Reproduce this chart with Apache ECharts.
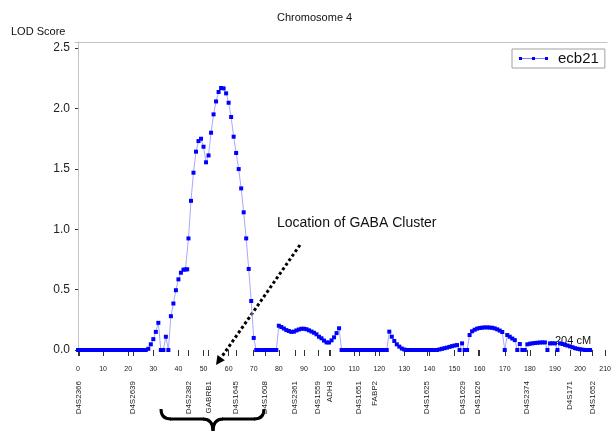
<!DOCTYPE html>
<html>
<head>
<meta charset="utf-8">
<script src="https://cdn.jsdelivr.net/npm/echarts@6/dist/echarts.min.js"></script>
<style>
  html, body { margin: 0; padding: 0; background: #fff; }
  #main { width: 614px; height: 432px; }
</style>
</head>
<body>
<div id="main"></div>
<script>
var chart = echarts.init(document.getElementById('main'))
var FONT = 'Liberation Sans'

// position (cM) and LOD score
var cmPos = [0,1,2,3,4,5,6,7,8,9,10,11,12,13,14,15,16,17,18,19,20,21,22,23,24,25,26,27,
  28,29,30,31,32,33,34,35,36,37,38,39,40,41,42,42.8,43.5,44,45,46,47,48,49,50,
  51,52,53,54,55,56,57,58,59,60,61,62,63,64,65,66,67,68,69,70,
  71,72,73,74,75,76,77,78,79,80,81,82,83,84,85,86,87,88,89,90,
  91,92,93,94,95,96,97,98,99,100,101,102,103,104,
  105,106,107,108,109,110,111,112,113,114,115,116,117,118,119,120,121,122,123,
  124,125,126,127,128,129,130,131,132,133,134,135,136,137,138,139,140,141,142,143,
  144,145,146,147,148,149,150,151,152,153,154,155,156,157,158,159,160,
  161,162,163,164,165,166,167,168,169,170,171,172,173,174,175,176,177,178,179,180,
  181,182,183,184,185,186,187,188,189,190,191,192,193,194,195,196,197,198,199,200,
  201,202,203,204]
var lodScore = [0,0,0,0,0,0,0,0,0,0,0,0,0,0,0,0,0,0,0,0,0,0,0,0,0,0,0,0,
  0.01,0.047,0.09,0.15,0.225,0,0,0.11,0,0.28,0.385,0.495,0.585,0.64,0.665,0.667,0.668,0.924,1.235,1.468,1.642,1.73,1.749,1.683,
  1.554,1.611,1.799,1.951,2.058,2.136,2.169,2.166,2.125,2.047,1.929,1.766,1.631,1.498,1.338,1.14,0.924,0.671,0.406,0.10,
  0,0,0,0,0,0,0,0,0,0.201,0.19,0.178,0.165,0.157,0.15,0.152,0.162,0.17,0.176,0.176,
  0.172,0.163,0.153,0.143,0.13,0.11,0.097,0.078,0.063,0.062,0.08,0.105,0.14,0.18,
  0,0,0,0,0,0,0,0,0,0,0,0,0,0,0,0,0,0,0,
  0.152,0.11,0.075,0.047,0.028,0.012,0.004,0,0,0,0,0,0,0,0,0,0,0,0,0,
  0.005,0.01,0.015,0.02,0.026,0.032,0.037,0.041,0,0.055,0,0,0.124,0.155,0.168,0.177,0.182,
  0.185,0.187,0.187,0.186,0.184,0.179,0.171,0.161,0.149,0,0.124,0.11,0.095,0.082,0,0.05,0,0,0.047,0.052,
  0.055,0.058,0.06,0.062,0.063,0.063,0,0.055,0.056,0.055,0,0.055,0.05,0.043,0.037,0.03,0.023,0.015,0.01,0.006,
  0.003,0,0,0]

// marker names and their map positions
var markerNames = ['D4S2366','D4S2639','D4S2382','GABRB1','D4S1645','D4S1608','D4S2361','D4S1559','ADH3',
  'D4S1651','FABP2','D4S1625','D4S1629','D4S1626','D4S2374','D4S171','D4S1652']
var markerPos = [0.4,22,44,52,63,74.5,86.5,95.6,100.4,112,118.3,139,153.4,159.4,178.9,196,205]

var xTicks = [0,10,20,30,40,50,60,70,80,90,100,110,120,130,140,150,160,170,180,190,200,210]
var yTicks = [0,0.5,1,1.5,2,2.5]

var seriesData = []
for (var i = 0; i < cmPos.length; i++) {
  seriesData.push([cmPos[i], lodScore[i]])
}

var markerLabel = {}
for (var j = 0; j < markerPos.length; j++) {
  markerLabel[markerPos[j]] = markerNames[j]
}

// arrow from the text down to the cluster
var tip = [216, 365], tail = [300, 245]
var dx = tip[0] - tail[0], dy = tip[1] - tail[1]
var len = Math.sqrt(dx * dx + dy * dy)
var ux = dx / len, uy = dy / len
var base = [tip[0] - ux * 9, tip[1] - uy * 9]

var braceStyle = { stroke: '#000', lineWidth: 3, fill: null }

var option = {
  animation: false,
  title: {
    text: 'Chromosome 4',
    left: 272,
    top: 7,
    textStyle: { fontFamily: FONT, fontSize: 11, fontWeight: 'normal', color: '#111' }
  },
  legend: {
    data: ['ecb21'],
    left: 512,
    top: 49,
    padding: [2, 6, 2, 7],
    borderColor: '#a0a0a0',
    borderWidth: 1,
    itemWidth: 29,
    itemHeight: 4,
    icon: 'path://M0,0h3v3h-3z M13,0h3v3h-3z M26,0h3v3h-3z M0,1.2h29v0.6h-29z',
    textStyle: { fontFamily: FONT, fontSize: 15, color: '#111', padding: [0, 0, 0, 5] }
  },
  grid: { left: 75, right: 4, top: 42, bottom: 78 },
  xAxis: [{
    type: 'value',
    position: 'bottom',
    min: -1.2,
    max: 210.8,
    axisLine: { show: false },
    splitLine: { show: false },
    axisTick: { show: true, length: 6, customValues: xTicks, lineStyle: { color: '#333' } },
    axisLabel: { customValues: xTicks, margin: 12, fontFamily: FONT, fontSize: 7, color: '#222' }
  }, {
    type: 'value',
    position: 'bottom',
    min: -1.2,
    max: 210.8,
    axisLine: { show: false },
    splitLine: { show: false },
    axisTick: { show: true, length: 6, customValues: markerPos, lineStyle: { color: '#333' } },
    axisLabel: {
      customValues: markerPos,
      rotate: 90,
      margin: 27,
      fontFamily: FONT,
      fontSize: 8,
      color: '#222',
      formatter: function (v) { return markerLabel[v] || '' }
    }
  }, {
    type: 'value',
    position: 'top',
    min: -1.2,
    max: 210.8,
    axisLine: { show: true, lineStyle: { color: '#c4c4c4' } },
    axisTick: { show: false },
    axisLabel: { show: false },
    splitLine: { show: false }
  }],
  yAxis: [{
    type: 'value',
    min: -0.033,
    max: 2.55,
    axisLine: { show: true, lineStyle: { color: '#c4c4c4' } },
    splitLine: { show: false },
    axisTick: { show: true, length: 3, customValues: yTicks, lineStyle: { color: '#333' } },
    axisLabel: {
      customValues: yTicks,
      margin: 5,
      fontFamily: FONT,
      fontSize: 12,
      color: '#222',
      formatter: function (v) { return v.toFixed(1) }
    }
  }, {
    type: 'value',
    position: 'right',
    min: -0.033,
    max: 2.55,
    axisLine: { show: true, lineStyle: { color: '#c4c4c4' } },
    axisTick: { show: false },
    axisLabel: { show: false },
    splitLine: { show: false }
  }],
  series: [{
    name: 'ecb21',
    type: 'line',
    data: seriesData,
    symbol: 'rect',
    symbolSize: 4,
    showAllSymbol: true,
    itemStyle: { color: '#0000ff' },
    lineStyle: { color: '#a8a8ff', width: 1 }
  }],
  graphic: [{
    type: 'text',
    x: 11,
    y: 32,
    style: { text: 'LOD Score', font: '11px ' + FONT, fill: '#111', verticalAlign: 'middle' }
  }, {
    type: 'text',
    x: 277,
    y: 223,
    style: { text: 'Location of GABA Cluster', font: '14px ' + FONT, fill: '#111', verticalAlign: 'middle' }
  }, {
    type: 'text',
    x: 555,
    y: 341,
    style: { text: '204 cM', font: '11px ' + FONT, fill: '#111', verticalAlign: 'middle' }
  }, {
    type: 'line',
    shape: { x1: tail[0], y1: tail[1], x2: base[0], y2: base[1] },
    style: { stroke: '#000', lineWidth: 3, lineDash: [3, 2.5] }
  }, {
    type: 'polygon',
    shape: { points: [tip, [base[0] - uy * 4.5, base[1] + ux * 4.5], [base[0] + uy * 4.5, base[1] - ux * 4.5]] },
    style: { fill: '#000' }
  }, {
    // curly brace under the cluster markers
    type: 'group',
    children: [
      { type: 'bezierCurve', shape: { x1: 161, y1: 409, cpx1: 161, cpy1: 419, x2: 171, y2: 419 }, style: braceStyle },
      { type: 'line', shape: { x1: 170, y1: 419, x2: 204, y2: 419 }, style: braceStyle },
      { type: 'bezierCurve', shape: { x1: 203, y1: 419, cpx1: 213, cpy1: 419, x2: 213, y2: 431 }, style: braceStyle },
      { type: 'bezierCurve', shape: { x1: 213, y1: 431, cpx1: 213, cpy1: 419, x2: 223, y2: 419 }, style: braceStyle },
      { type: 'line', shape: { x1: 222, y1: 419, x2: 255, y2: 419 }, style: braceStyle },
      { type: 'bezierCurve', shape: { x1: 254, y1: 419, cpx1: 264, cpy1: 419, x2: 264, y2: 409 }, style: braceStyle }
    ]
  }]
}

chart.setOption(option)
</script>
</body>
</html>
